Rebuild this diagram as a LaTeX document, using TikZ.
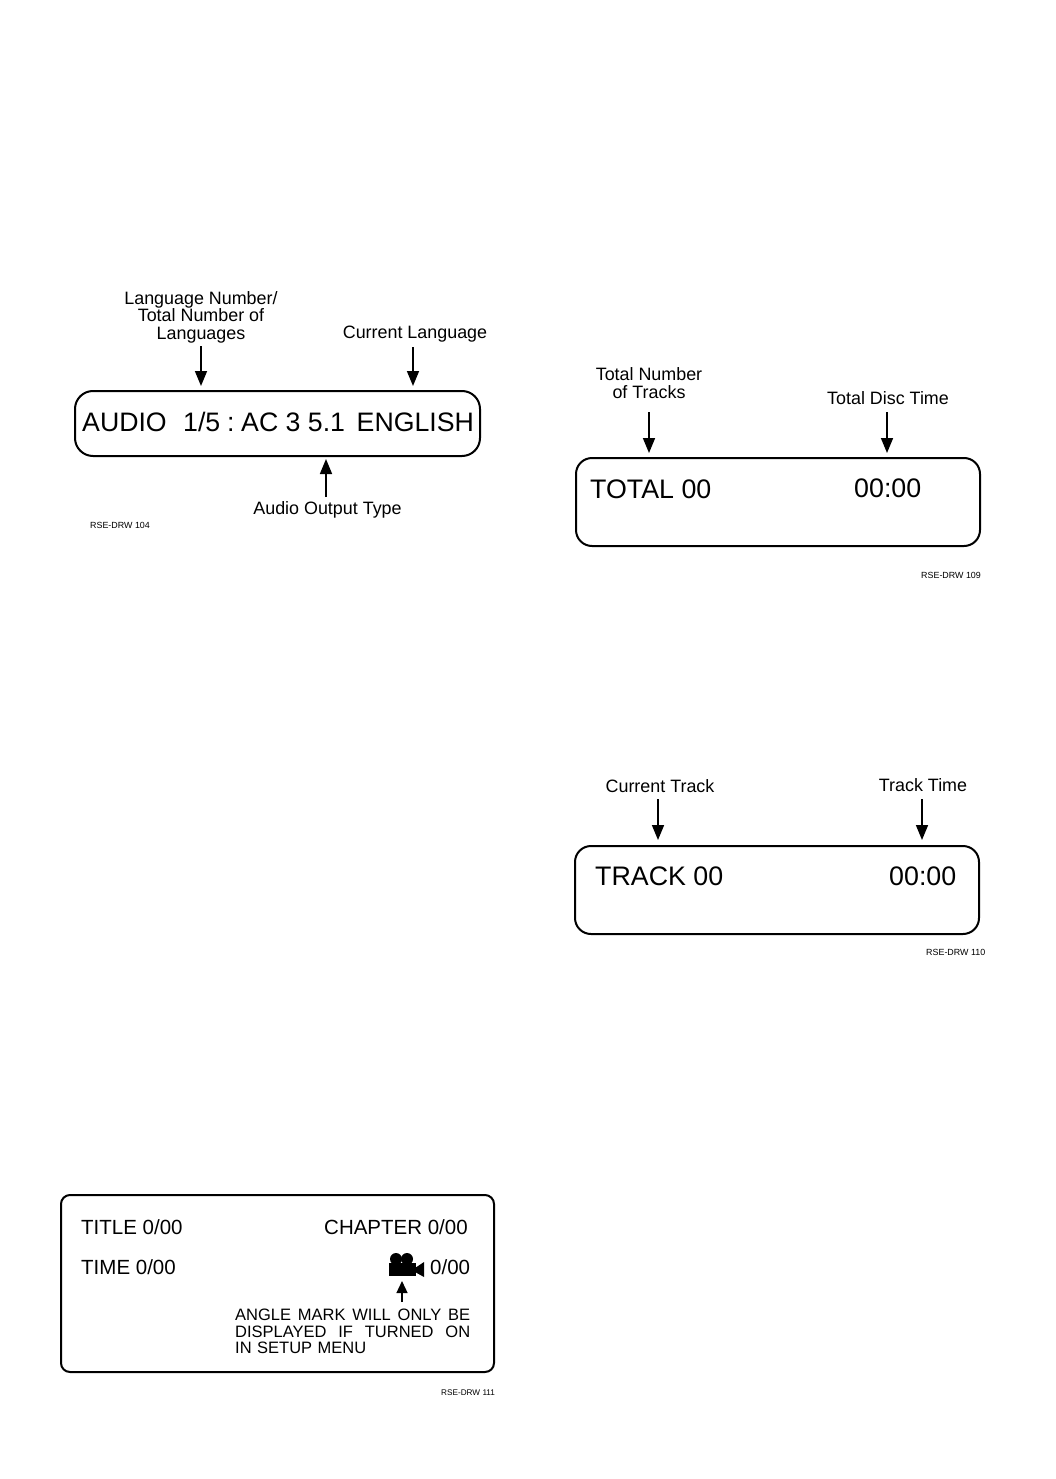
\documentclass[tikz,border=0pt]{standalone}
\usepackage{fontspec}
\setmainfont{Liberation Sans}
\usetikzlibrary{arrows.meta}
\tikzset{
  lcd/.style={draw=black,line width=2pt,rounded corners=16pt,fill=none},
  lab/.style={font=\fontsize{17.9}{18}\selectfont,anchor=base,inner sep=0pt,align=center},
  aud/.style={font=\fontsize{26.7}{30}\selectfont,anchor=base west,inner sep=0pt},
  big/.style={font=\fontsize{26.8}{30}\selectfont,anchor=base west,inner sep=0pt},
  mid/.style={font=\fontsize{20.5}{22}\selectfont,anchor=base west,inner sep=0pt},
  note/.style={font=\fontsize{16.5}{17}\selectfont,anchor=base west,inner sep=0pt,text width=235pt},
  tag/.style={font=\fontsize{8.9}{9}\selectfont,anchor=base west,inner sep=0pt},
  arr/.style={draw=black,line width=1.6pt,-{Triangle[length=15pt,width=12pt]}}
}
\begin{document}
\begin{tikzpicture}[x=1pt,y=-1pt]
\useasboundingbox (0,0) rectangle (1056,1479);
\fill[white] (0,0) rectangle (1056,1479);
% Audio panel
\draw[lcd,rounded corners=18pt] (75,391) rectangle (480,456);
\node[aud] (audio) at (82,431) {AUDIO};
\node[aud] (num) at (183,431) {1/5};
\node[aud] (colon) at (227,431) {:};
\node[aud] (ac) at (241,431) {AC 3 5.1};
\node[aud] (eng) at (356.5,431) {ENGLISH};
\node[lab] (langa) at (201,304) {Language Number/};
\node[lab] (langb) at (201,321) {Total Number of};
\node[lab] (langc) at (201,339) {Languages};
\node[lab] (curlang) at (415,338) {Current Language};
\node[lab] (outtype) at (327.5,514) {Audio Output Type};
\node[tag] (tag104) at (90,528) {RSE-DRW 104};
\coordinate (a1s) at (201,346); \coordinate (a1e) at (201,386);
\coordinate (a2s) at (413,347); \coordinate (a2e) at (413,386);
\coordinate (a3s) at (326,497); \coordinate (a3e) at (326,459);
\draw[arr] (a1s) -- (a1e);
\draw[arr] (a2s) -- (a2e);
\draw[arr] (a3s) -- (a3e);
% Total panel
\draw[lcd] (576,458) rectangle (980,546);
\node[big] (total) at (590,498) {TOTAL 00};
\node[big] (totaltime) at (854,497) {00:00};
\node[lab] (tna) at (649,380) {Total Number};
\node[lab] (tnb) at (649,398) {of Tracks};
\node[lab] (tdt) at (888,404) {Total Disc Time};
\node[tag] (tag109) at (921,578) {RSE-DRW 109};
\coordinate (b1s) at (649,412); \coordinate (b1e) at (649,453);
\coordinate (b2s) at (887,412); \coordinate (b2e) at (887,453);
\draw[arr] (b1s) -- (b1e);
\draw[arr] (b2s) -- (b2e);
% Track panel
\draw[lcd] (575,846) rectangle (979,934);
\node[big] (track) at (595,885) {TRACK 00};
\node[big] (tracktime) at (889,885) {00:00};
\node[lab] (ct) at (660,792) {Current Track};
\node[lab] (tt) at (923,791) {Track Time};
\node[tag] (tag110) at (926,955) {RSE-DRW 110};
\coordinate (c1s) at (658,799); \coordinate (c1e) at (658,840);
\coordinate (c2s) at (922,799); \coordinate (c2e) at (922,840);
\draw[arr] (c1s) -- (c1e);
\draw[arr] (c2s) -- (c2e);
% Title panel
\draw[lcd,rounded corners=9pt] (61,1195) rectangle (494,1372);
\node[mid] (title) at (81,1234) {TITLE 0/00};
\node[mid] (chapter) at (324,1234) {CHAPTER 0/00};
\node[mid] (time) at (81,1274) {TIME 0/00};
\node[mid] (angle) at (430,1274) {0/00};
\fill (389,1263) rectangle (416,1276);
\fill (396,1259) circle (6pt);
\fill (407,1259) circle (6pt);
\fill (415,1268) -- (424,1262) -- (424,1277) -- (415,1272) -- cycle;
\coordinate (d1s) at (402,1302); \coordinate (d1e) at (402,1281);
\draw[arr,line width=1.4pt,-{Triangle[length=12pt,width=11pt]}] (d1s) -- (d1e);
\node[note] (n1) at (235,1320) {ANGLE\hfill MARK\hfill WILL\hfill ONLY\hfill BE};
\node[note] (n2) at (235,1337) {DISPLAYED\hfill IF\hfill TURNED\hfill ON};
\node[note] (n3) at (235,1353) {IN SETUP MENU};
\node[tag,font=\fontsize{8.2}{9}\selectfont] (tag111) at (441,1395) {RSE-DRW 111};
\end{tikzpicture}
\end{document}
